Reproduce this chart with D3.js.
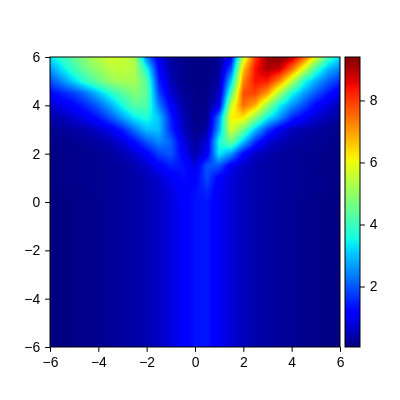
<!DOCTYPE html>
<html>
<head>
<meta charset="utf-8">
<script src="https://cdn.jsdelivr.net/npm/d3@7"></script>
<style>
  body { margin: 0; background: #fff; }
  #chart { position: relative; width: 400px; height: 400px; }
  #chart canvas, #chart svg { position: absolute; left: 0; top: 0; }
</style>
</head>
<body>
<div id="chart"></div>
<script>
// grid nodes (x columns, y rows from top to bottom)
const xCoords = [-6, -5.5, -5, -4.5, -4, -3.5, -3, -2.5, -2, -1.5, -1, -0.5, 0, 0.5, 1, 1.5, 2, 2.5, 3, 3.5, 4, 4.5, 5, 5.5, 6];
const yCoords = [6, 5.5, 5, 4.5, 4, 3.5, 3, 2.5, 2, 1.5, 1, 0.5, 0, -0.5, -1, -1.5, -2, -2.5, -3, -3.5, -4, -4.5, -5, -5.5, -6];

const zRows = [
  [3.3, 3.9, 4.4, 5.0, 5.4, 5.7, 5.6, 5.3, 2.3, 0.9, 0.3, 0.15, 0.1, 0.1, 0.2, 1.1, 5.5, 8.0, 9.2, 9.4, 9.0, 7.7, 5.9, 4.1, 3.2],
  [2.6, 3.3, 4.0, 4.6, 5.0, 5.4, 5.5, 5.3, 3.6, 1.2, 0.4, 0.15, 0.1, 0.1, 0.25, 2.0, 6.6, 8.4, 9.0, 8.8, 7.5, 5.8, 4.0, 2.9, 2.4],
  [1.9, 2.5, 3.2, 3.9, 4.5, 5.0, 5.2, 5.2, 4.3, 1.5, 0.5, 0.18, 0.1, 0.1, 0.35, 3.1, 7.2, 8.4, 8.3, 7.2, 5.5, 3.7, 2.8, 2.1, 1.6],
  [1.2, 1.5, 1.8, 2.3, 3.0, 3.7, 4.3, 4.8, 4.4, 1.9, 0.7, 0.25, 0.1, 0.12, 0.5, 4.2, 7.8, 7.9, 7.0, 5.2, 3.6, 2.7, 2.0, 1.4, 0.9],
  [0.7, 0.9, 1.2, 1.6, 2.1, 2.8, 3.6, 4.3, 4.2, 2.4, 1.1, 0.35, 0.12, 0.15, 0.9, 5.6, 7.5, 6.8, 5.0, 3.5, 2.6, 1.9, 1.2, 0.8, 0.5],
  [0.4, 0.5, 0.7, 1.0, 1.4, 2.0, 2.7, 3.4, 3.7, 3.0, 1.5, 0.5, 0.12, 0.2, 2.4, 6.2, 6.3, 4.9, 3.5, 2.6, 1.6, 1.1, 0.7, 0.45, 0.3],
  [0.2, 0.25, 0.35, 0.45, 0.65, 0.95, 1.5, 2.3, 3.0, 3.0, 1.6, 0.6, 0.15, 0.35, 2.8, 5.8, 4.6, 3.0, 1.8, 1.0, 0.55, 0.4, 0.3, 0.22, 0.17],
  [0.12, 0.15, 0.2, 0.25, 0.35, 0.5, 0.8, 1.3, 2.0, 2.5, 2.1, 0.9, 0.25, 0.8, 3.6, 4.6, 3.0, 1.6, 0.8, 0.5, 0.35, 0.27, 0.22, 0.17, 0.13],
  [0.1, 0.12, 0.15, 0.18, 0.22, 0.3, 0.45, 0.7, 1.1, 1.8, 2.0, 1.1, 0.4, 1.0, 3.4, 2.6, 1.2, 0.6, 0.4, 0.3, 0.25, 0.2, 0.16, 0.13, 0.1],
  [0.1, 0.12, 0.14, 0.17, 0.2, 0.25, 0.3, 0.45, 0.7, 1.1, 1.5, 1.4, 0.8, 2.0, 2.0, 1.0, 0.6, 0.45, 0.35, 0.3, 0.25, 0.2, 0.17, 0.14, 0.1],
  [0.1, 0.12, 0.15, 0.18, 0.2, 0.25, 0.3, 0.35, 0.5, 0.7, 1.0, 1.3, 1.1, 1.9, 1.1, 0.75, 0.55, 0.42, 0.35, 0.3, 0.25, 0.2, 0.17, 0.13, 0.1],
  [0.08, 0.1, 0.13, 0.16, 0.2, 0.25, 0.3, 0.35, 0.45, 0.62, 0.85, 1.15, 1.3, 1.6, 1.0, 0.75, 0.55, 0.42, 0.35, 0.3, 0.25, 0.2, 0.16, 0.12, 0.08],
  [0.05, 0.08, 0.12, 0.15, 0.19, 0.24, 0.3, 0.36, 0.45, 0.6, 0.8, 1.1, 1.35, 1.4, 1.0, 0.75, 0.55, 0.42, 0.34, 0.28, 0.22, 0.17, 0.13, 0.09, 0.05],
  [0.05, 0.08, 0.12, 0.15, 0.19, 0.24, 0.3, 0.36, 0.45, 0.6, 0.8, 1.1, 1.35, 1.4, 1.0, 0.75, 0.55, 0.42, 0.34, 0.28, 0.22, 0.17, 0.13, 0.09, 0.05],
  [0.05, 0.08, 0.12, 0.15, 0.19, 0.24, 0.3, 0.36, 0.45, 0.6, 0.8, 1.1, 1.35, 1.4, 1.0, 0.75, 0.55, 0.42, 0.34, 0.28, 0.22, 0.17, 0.13, 0.09, 0.05],
  [0.05, 0.08, 0.12, 0.15, 0.19, 0.24, 0.3, 0.36, 0.45, 0.6, 0.8, 1.1, 1.35, 1.4, 1.0, 0.75, 0.55, 0.42, 0.34, 0.28, 0.22, 0.17, 0.13, 0.09, 0.05],
  [0.05, 0.08, 0.12, 0.15, 0.19, 0.24, 0.3, 0.36, 0.45, 0.6, 0.8, 1.1, 1.35, 1.4, 1.0, 0.75, 0.55, 0.42, 0.34, 0.28, 0.22, 0.17, 0.13, 0.09, 0.05],
  [0.05, 0.08, 0.12, 0.15, 0.19, 0.24, 0.3, 0.36, 0.45, 0.6, 0.8, 1.1, 1.35, 1.4, 1.0, 0.75, 0.55, 0.42, 0.34, 0.28, 0.22, 0.17, 0.13, 0.09, 0.05],
  [0.05, 0.08, 0.12, 0.15, 0.19, 0.24, 0.3, 0.36, 0.45, 0.6, 0.8, 1.1, 1.35, 1.4, 1.0, 0.75, 0.55, 0.42, 0.34, 0.28, 0.22, 0.17, 0.13, 0.09, 0.05],
  [0.05, 0.08, 0.12, 0.15, 0.19, 0.24, 0.3, 0.36, 0.45, 0.6, 0.8, 1.1, 1.35, 1.4, 1.0, 0.75, 0.55, 0.42, 0.34, 0.28, 0.22, 0.17, 0.13, 0.09, 0.05],
  [0.05, 0.08, 0.12, 0.15, 0.19, 0.24, 0.3, 0.36, 0.45, 0.6, 0.8, 1.1, 1.35, 1.4, 1.0, 0.75, 0.55, 0.42, 0.34, 0.28, 0.22, 0.17, 0.13, 0.09, 0.05],
  [0.05, 0.08, 0.12, 0.15, 0.19, 0.24, 0.3, 0.36, 0.45, 0.6, 0.8, 1.1, 1.35, 1.4, 1.0, 0.75, 0.55, 0.42, 0.34, 0.28, 0.22, 0.17, 0.13, 0.09, 0.05],
  [0.05, 0.08, 0.12, 0.15, 0.19, 0.24, 0.3, 0.36, 0.45, 0.6, 0.8, 1.1, 1.35, 1.4, 1.0, 0.75, 0.55, 0.42, 0.34, 0.28, 0.22, 0.17, 0.13, 0.09, 0.05],
  [0.05, 0.08, 0.12, 0.15, 0.19, 0.24, 0.3, 0.36, 0.45, 0.6, 0.8, 1.1, 1.35, 1.4, 1.0, 0.75, 0.55, 0.42, 0.34, 0.28, 0.22, 0.17, 0.13, 0.09, 0.05],
  [0.05, 0.08, 0.12, 0.15, 0.19, 0.24, 0.3, 0.36, 0.45, 0.6, 0.8, 1.1, 1.35, 1.4, 1.0, 0.75, 0.55, 0.42, 0.34, 0.28, 0.22, 0.17, 0.13, 0.09, 0.05]
];

const xTicks = [-6, -4, -2, 0, 2, 4, 6];
const yTicks = [-6, -4, -2, 0, 2, 4, 6];
const cbarTicks = [2, 4, 6, 8];

const width = 400, height = 400;
const plot = {left: 50, top: 57, right: 340, bottom: 347};
const cbar = {left: 345, right: 360};
const fontSize = "13.9px";
const tickLen = 4.9;

const x = d3.scaleLinear().domain([-6, 6]).range([plot.left, plot.right]);
const y = d3.scaleLinear().domain([-6, 6]).range([plot.bottom, plot.top]);

// matplotlib "jet"
const jetR = d3.scaleLinear().domain([0, 0.35, 0.66, 0.89, 1]).range([0, 0, 1, 1, 0.5]).clamp(true);
const jetG = d3.scaleLinear().domain([0, 0.125, 0.375, 0.64, 0.91, 1]).range([0, 0, 1, 1, 0, 0]).clamp(true);
const jetB = d3.scaleLinear().domain([0, 0.11, 0.34, 0.65, 1]).range([0.5, 1, 1, 0, 0]).clamp(true);

const zExtent = d3.extent(zRows.flat());
const norm = d3.scaleLinear().domain(zExtent).range([0, 1]).clamp(true);
function jet(v) {
  const t = norm(v);
  return [Math.round(jetR(t) * 255), Math.round(jetG(t) * 255), Math.round(jetB(t) * 255)];
}

const colIdx = d3.scaleLinear().domain(d3.extent(xCoords)).range([0, xCoords.length - 1]).clamp(true);
const rowIdx = d3.scaleLinear().domain([yCoords[0], yCoords[yCoords.length - 1]]).range([0, yCoords.length - 1]).clamp(true);

// smooth shading between grid nodes
function sample(dx, dy) {
  const fc = colIdx(dx), fr = rowIdx(dy);
  const c0 = Math.min(Math.floor(fc), xCoords.length - 2);
  const r0 = Math.min(Math.floor(fr), yCoords.length - 2);
  const tc = fc - c0, tr = fr - r0;
  const a = zRows[r0][c0], b = zRows[r0][c0 + 1];
  const c = zRows[r0 + 1][c0], d = zRows[r0 + 1][c0 + 1];
  return (a * (1 - tc) + b * tc) * (1 - tr) + (c * (1 - tc) + d * tc) * tr;
}

const wrap = d3.select("#chart");

const canvas = wrap.append("canvas")
    .attr("width", width)
    .attr("height", height);
const ctx = canvas.node().getContext("2d");
const pw = plot.right - plot.left, ph = plot.bottom - plot.top;
const img = ctx.createImageData(pw, ph);
for (let py = 0; py < ph; py++) {
  for (let px = 0; px < pw; px++) {
    const v = sample(x.invert(plot.left + px + 0.5), y.invert(plot.top + py + 0.5));
    const col = jet(v);
    const k = (py * pw + px) * 4;
    img.data[k] = col[0];
    img.data[k + 1] = col[1];
    img.data[k + 2] = col[2];
    img.data[k + 3] = 255;
  }
}
ctx.putImageData(img, plot.left, plot.top);

const svg = wrap.append("svg")
    .attr("width", width)
    .attr("height", height)
    .style("font-family", "'DejaVu Sans', sans-serif");

// colorbar gradient
const c = d3.scaleLinear().domain(zExtent).range([plot.bottom, plot.top]);
const grad = svg.append("defs").append("linearGradient")
    .attr("id", "jetGrad")
    .attr("x1", 0).attr("y1", 1).attr("x2", 0).attr("y2", 0);
grad.selectAll("stop")
  .data(d3.range(0, 1.0001, 1 / 128))
  .enter().append("stop")
    .attr("offset", d => d)
    .attr("stop-color", d => {
      const col = jet(norm.invert(d));
      return `rgb(${col[0]},${col[1]},${col[2]})`;
    });

svg.append("rect")
    .attr("x", cbar.left)
    .attr("y", plot.top)
    .attr("width", cbar.right - cbar.left)
    .attr("height", ph)
    .attr("fill", "url(#jetGrad)")
    .attr("stroke", "black")
    .attr("stroke-width", 1);

svg.append("rect")
    .attr("x", plot.left)
    .attr("y", plot.top)
    .attr("width", pw)
    .attr("height", ph)
    .attr("fill", "none")
    .attr("stroke", "black")
    .attr("stroke-width", 1);

function styleAxis(g) {
  g.select(".domain").remove();
  g.selectAll(".tick line").attr("stroke", "black").attr("stroke-width", 1);
  g.selectAll(".tick text").attr("fill", "black").style("font-size", fontSize);
}

svg.append("g")
    .attr("transform", `translate(0,${plot.bottom})`)
    .call(d3.axisBottom(x).tickValues(xTicks).tickFormat(d3.format("d"))
      .tickSize(tickLen).tickPadding(4.9).tickSizeOuter(0))
    .call(styleAxis);

svg.append("g")
    .attr("transform", `translate(${plot.left},0)`)
    .call(d3.axisLeft(y).tickValues(yTicks).tickFormat(d3.format("d"))
      .tickSize(tickLen).tickPadding(4.9).tickSizeOuter(0))
    .call(styleAxis);

svg.append("g")
    .attr("transform", `translate(${cbar.right},0)`)
    .call(d3.axisRight(c).tickValues(cbarTicks).tickFormat(d3.format("d"))
      .tickSize(tickLen).tickPadding(4.9).tickSizeOuter(0))
    .call(styleAxis);
</script>
</body>
</html>
